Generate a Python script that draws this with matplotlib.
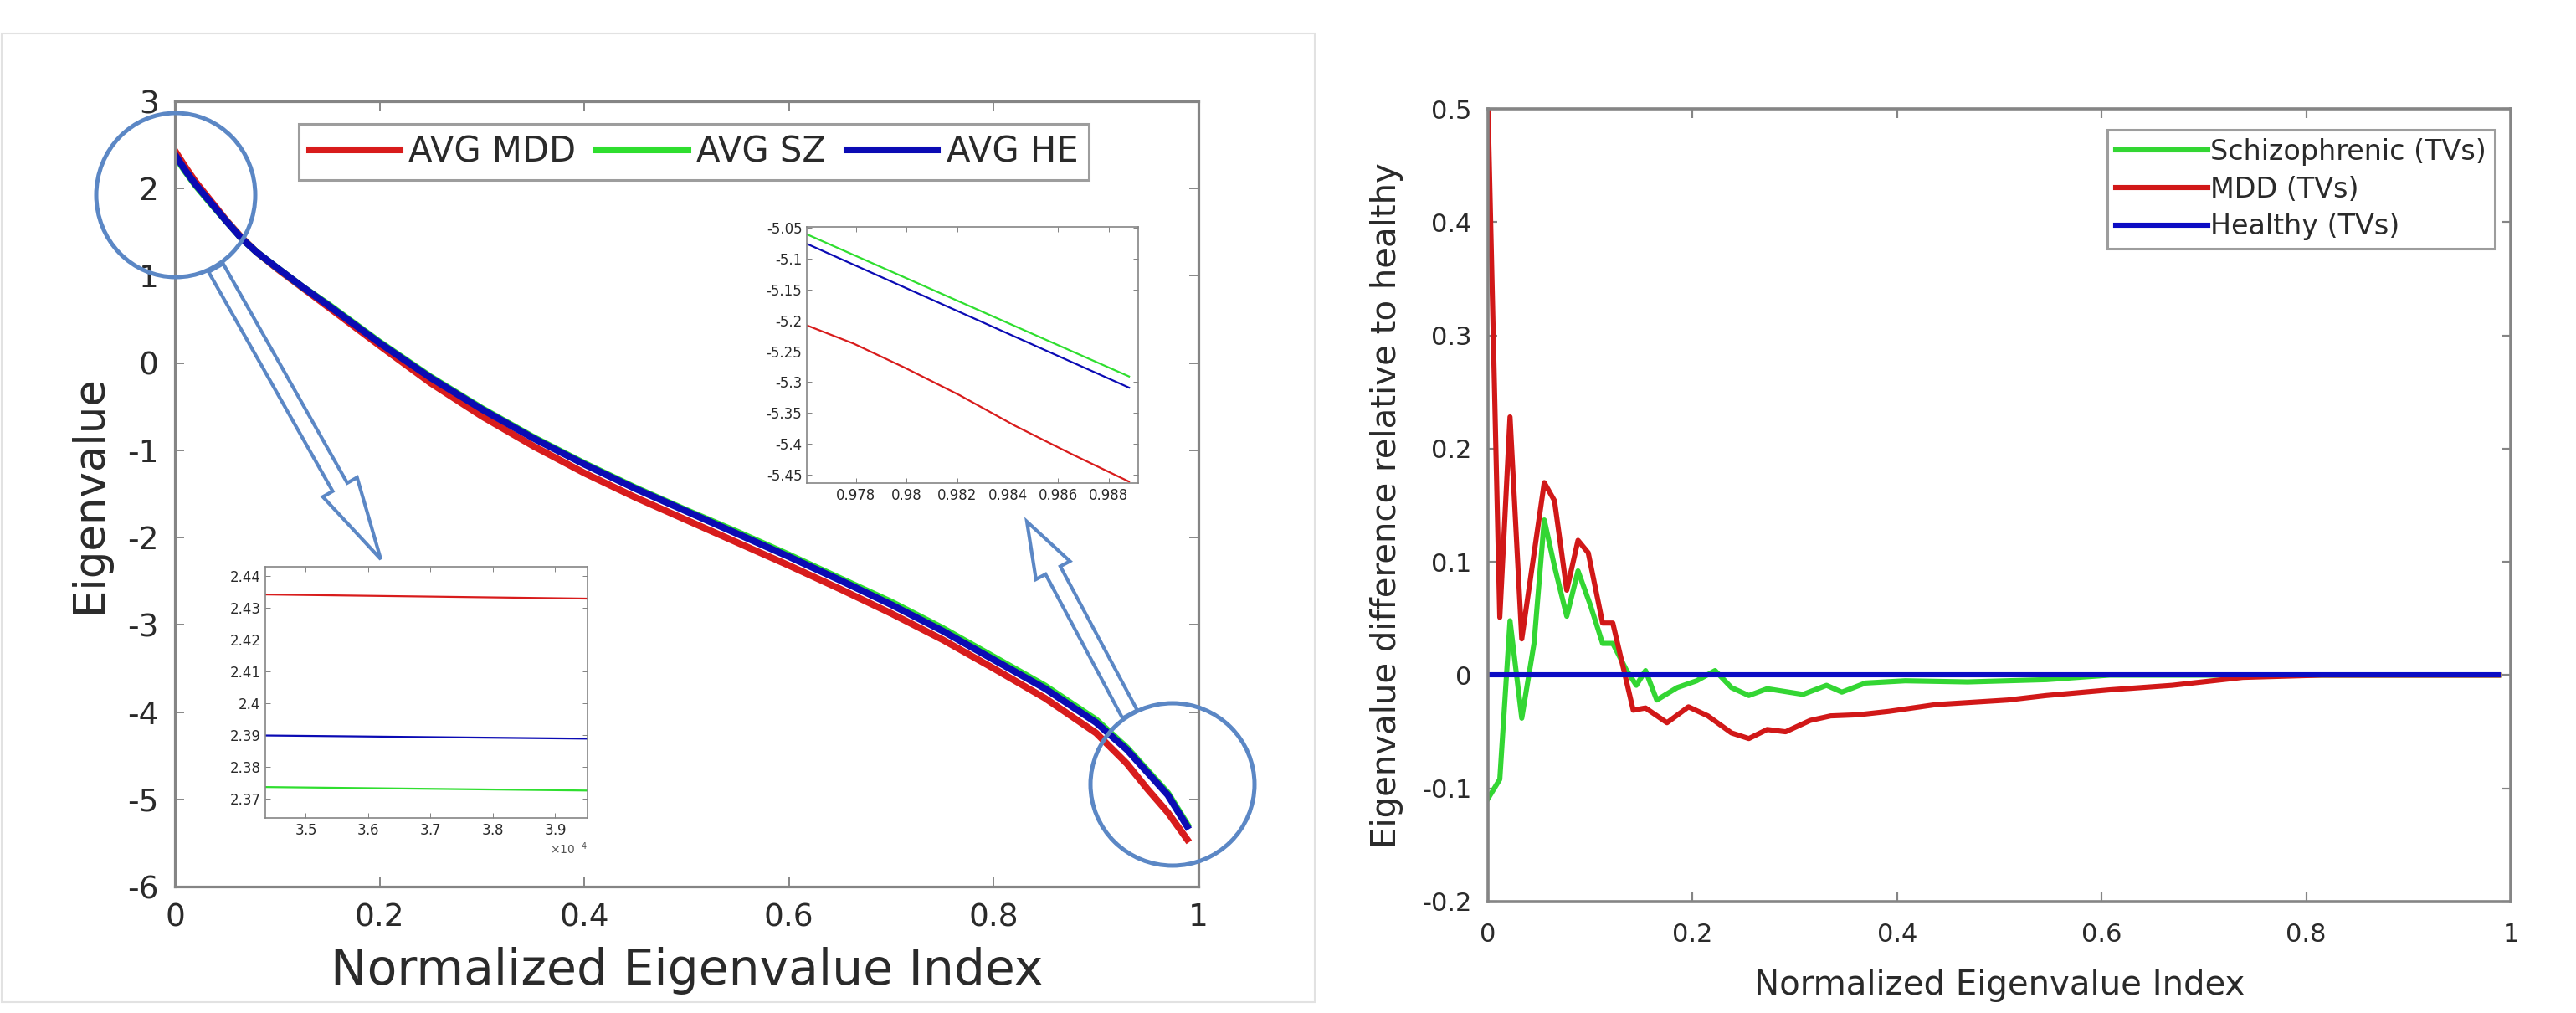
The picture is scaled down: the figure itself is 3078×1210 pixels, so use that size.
import matplotlib
matplotlib.use('Agg')
from matplotlib import pyplot as plt
from matplotlib import patches, transforms
from matplotlib.ticker import FuncFormatter

# ---- left panel: average eigenvalue spectra ----
x_index = [0, 0.01, 0.02, 0.035, 0.05, 0.065, 0.08, 0.1, 0.125, 0.15, 0.2, 0.25, 0.3, 0.35, 0.4,
           0.45, 0.5, 0.55, 0.6, 0.65, 0.7, 0.75, 0.8, 0.85, 0.9, 0.93, 0.95, 0.97, 0.989]
avg_mdd = [2.434, 2.25, 2.08, 1.86, 1.64, 1.44, 1.27, 1.08, 0.86, 0.64, 0.2, -0.23, -0.61, -0.95,
           -1.26, -1.54, -1.8, -2.06, -2.32, -2.59, -2.87, -3.17, -3.5, -3.84, -4.24, -4.59, -4.88,
           -5.15, -5.46]
avg_sz = [2.374, 2.2, 2.04, 1.83, 1.63, 1.43, 1.27, 1.09, 0.87, 0.67, 0.24, -0.16, -0.52, -0.85,
          -1.15, -1.43, -1.69, -1.94, -2.2, -2.47, -2.74, -3.04, -3.37, -3.7, -4.09, -4.41, -4.67,
          -4.93, -5.29]
avg_he = [2.39, 2.21, 2.05, 1.84, 1.63, 1.43, 1.27, 1.09, 0.87, 0.66, 0.23, -0.17, -0.53, -0.86,
          -1.16, -1.44, -1.7, -1.96, -2.22, -2.49, -2.77, -3.07, -3.4, -3.73, -4.12, -4.43, -4.69,
          -4.95, -5.31]

# zoom near the first eigenvalue
zoom1_x = [3.4355e-4, 3.952e-4]
zoom1_mdd = [2.4342, 2.4329]
zoom1_sz = [2.3737, 2.3726]
zoom1_he = [2.3899, 2.3889]

# zoom near the last eigenvalue
zoom2_x = [0.97606, 0.9888]
zoom2_mdd_x = [0.97606, 0.97791, 0.9799, 0.9821, 0.9843, 0.9865, 0.9888]
zoom2_mdd = [-5.208, -5.2376, -5.276, -5.3212, -5.3709, -5.416, -5.4613]
zoom2_sz = [-5.0604, -5.2909]
zoom2_he = [-5.0758, -5.309]

# ---- right panel: difference relative to healthy ----
diff_sz_x = [0, 0.0115, 0.0215, 0.033, 0.045, 0.055, 0.065, 0.077, 0.088, 0.1, 0.112, 0.122,
             0.135, 0.145, 0.154, 0.165, 0.185, 0.204, 0.222, 0.238, 0.255, 0.273, 0.308,
             0.331, 0.346, 0.369, 0.408, 0.469, 0.546, 0.608, 0.988]
diff_sz = [-0.109, -0.092, 0.048, -0.038, 0.028, 0.137, 0.096, 0.052, 0.092, 0.062, 0.028, 0.028,
           0.005, -0.009, 0.004, -0.022, -0.011, -0.005, 0.004, -0.011, -0.018, -0.012, -0.017,
           -0.009, -0.015, -0.007, -0.005, -0.006, -0.004, 0.0, 0.0]
diff_mdd_x = [0, 0.0115, 0.0215, 0.033, 0.055, 0.065, 0.077, 0.088, 0.098, 0.112, 0.122, 0.142,
              0.154, 0.175, 0.196, 0.215, 0.238, 0.255, 0.273, 0.291, 0.315, 0.335, 0.362, 0.392,
              0.438, 0.508, 0.546, 0.608, 0.669, 0.738, 0.815, 0.988]
diff_mdd = [0.5, 0.051, 0.228, 0.032, 0.17, 0.154, 0.075, 0.119, 0.108, 0.046, 0.046, -0.031,
            -0.029, -0.042, -0.028, -0.036, -0.051, -0.056, -0.048, -0.05, -0.04, -0.036, -0.035,
            -0.032, -0.026, -0.022, -0.018, -0.013, -0.009, -0.002, 0.0, 0.0]
diff_he_x = [0, 0.988]
diff_he = [0.0, 0.0]

plt.rcParams['font.family'] = ['DejaVu Sans']
plt.rcParams['axes.unicode_minus'] = False

RED = '#d81c1c'
GREEN = '#2fde2f'
BLUE = '#0b0bb4'
MARK = '#5b87c5'
GRAY = '#858585'
TXT = '#2a2a2a'

W, H = 3078, 1210


def num(v, pos):
    return '%g' % (round(v, 6) + 0.0)


def style_axes(ax, size, spine_w, tick_len, pad):
    for s in ax.spines.values():
        s.set_color(GRAY)
        s.set_linewidth(spine_w)
    ax.tick_params(direction='in', top=True, right=True, length=tick_len, width=spine_w * 0.6,
                   color=GRAY, labelsize=size, labelcolor=TXT, pad=pad)


def px_box(x0, y0, x1, y1):
    # pixel box (top-left origin) -> figure fraction rect
    return [x0 / W, 1 - y1 / H, (x1 - x0) / W, (y1 - y0) / H]


fig = plt.figure(figsize=(W / 100, H / 100), dpi=100)

# left main axes
ax = fig.add_axes(px_box(209, 121, 1432, 1059))
ax.plot(x_index, avg_mdd, color=RED, lw=5.8, label='AVG MDD')
ax.plot(x_index, avg_sz, color=GREEN, lw=5.8, label='AVG SZ')
ax.plot(x_index, avg_he, color=BLUE, lw=5.8, label='AVG HE')
ax.set_xlim(0, 1)
ax.set_ylim(-6, 3)
ax.set_xticks([0, 0.2, 0.4, 0.6, 0.8, 1])
ax.set_yticks(range(-6, 4))
ax.xaxis.set_major_formatter(FuncFormatter(num))
ax.yaxis.set_major_formatter(FuncFormatter(num))
style_axes(ax, 27, 2.3, 8, 14)
ax.set_xlabel('Normalized Eigenvalue Index', fontsize=42, color=TXT, va='center')
ax.set_ylabel('Eigenvalue', fontsize=37, color=TXT, va='center')
ax.xaxis.set_label_coords(0.5, (1059 - 1160) / 938)
ax.yaxis.set_label_coords((107 - 209) / 1223, 0.5)
lgd = ax.legend(loc='upper left', bbox_to_anchor=((357 - 209) / 1223, (1059 - 148) / 938),
                ncol=3, fontsize=30, handlelength=2.6, handletextpad=0.25, columnspacing=0.6,
                fancybox=False, edgecolor=GRAY, borderpad=0.3, borderaxespad=0)
lgd.get_frame().set_linewidth(2.2)
for t in lgd.get_texts():
    t.set_color(TXT)

# inset near the first eigenvalue
ins1 = fig.add_axes(px_box(317, 677, 702, 977))
ins1.plot(zoom1_x, zoom1_mdd, color=RED, lw=1.6)
ins1.plot(zoom1_x, zoom1_he, color=BLUE, lw=1.6)
ins1.plot(zoom1_x, zoom1_sz, color=GREEN, lw=1.6)
ins1.set_xlim(3.4355e-4, 3.952e-4)
ins1.set_ylim(2.364, 2.4429)
ins1.set_xticks([3.5e-4, 3.6e-4, 3.7e-4, 3.8e-4, 3.9e-4])
ins1.set_yticks([2.37, 2.38, 2.39, 2.4, 2.41, 2.42, 2.43, 2.44])
ins1.yaxis.set_major_formatter(FuncFormatter(num))
ins1.ticklabel_format(axis='x', style='sci', scilimits=(0, 0), useMathText=True)
style_axes(ins1, 12, 1.2, 4, 4)
ins1.xaxis.get_offset_text().set_fontsize(10)
ins1.xaxis.get_offset_text().set_color('#555555')

# inset near the last eigenvalue
ins2 = fig.add_axes(px_box(964, 271, 1360, 577))
ins2.plot(zoom2_mdd_x, zoom2_mdd, color=RED, lw=1.6)
ins2.plot(zoom2_x, zoom2_sz, color=GREEN, lw=1.6)
ins2.plot(zoom2_x, zoom2_he, color=BLUE, lw=1.6)
ins2.set_xlim(0.97606, 0.98916)
ins2.set_ylim(-5.4636, -5.0485)
ins2.set_xticks([0.978, 0.98, 0.982, 0.984, 0.986, 0.988])
ins2.set_yticks([-5.45, -5.4, -5.35, -5.3, -5.25, -5.2, -5.15, -5.1, -5.05])
ins2.xaxis.set_major_formatter(FuncFormatter(num))
ins2.yaxis.set_major_formatter(FuncFormatter(num))
style_axes(ins2, 12, 1.2, 4, 4)

# right axes
ax2 = fig.add_axes(px_box(1778, 130, 3000, 1077))
ax2.plot(diff_sz_x, diff_sz, color='#33d633', lw=4.4, label='Schizophrenic (TVs)')
ax2.plot(diff_mdd_x, diff_mdd, color='#d11818', lw=4.4, label='MDD (TVs)')
ax2.plot(diff_he_x, diff_he, color='#0c0cc4', lw=4.4, label='Healthy (TVs)')
ax2.set_xlim(0, 1)
ax2.set_ylim(-0.2, 0.5)
ax2.set_xticks([0, 0.2, 0.4, 0.6, 0.8, 1])
ax2.set_yticks([-0.2, -0.1, 0, 0.1, 0.2, 0.3, 0.4, 0.5])
ax2.xaxis.set_major_formatter(FuncFormatter(num))
ax2.yaxis.set_major_formatter(FuncFormatter(num))
style_axes(ax2, 22, 2.6, 8, 18)
ax2.tick_params(axis='y', pad=14)
ax2.set_xlabel('Normalized Eigenvalue Index', fontsize=29, color=TXT, va='center')
ax2.set_ylabel('Eigenvalue difference relative to healthy', fontsize=29, color=TXT, va='center')
ax2.xaxis.set_label_coords(0.5, (1077 - 1177) / 947)
ax2.yaxis.set_label_coords((1657 - 1778) / 1222, 0.5)
lgd2 = ax2.legend(loc='upper right', bbox_to_anchor=((2981 - 1778) / 1222, (1077 - 155) / 947),
                  fontsize=24, handlelength=3.3, handletextpad=0.1, labelspacing=0.35,
                  fancybox=False, edgecolor=GRAY, borderpad=0.3, borderaxespad=0)
lgd2.get_frame().set_linewidth(2.2)
for t in lgd2.get_texts():
    t.set_color(TXT)

# circles, arrows and frame drawn in pixel coordinates
px = transforms.Affine2D().scale(1 / W, -1 / H).translate(0, 1) + fig.transFigure
fig.add_artist(patches.Rectangle((2, 40), 1569, 1157, transform=px, fill=False,
                                 ec='#e2e2e2', lw=1.5))
fig.add_artist(patches.Ellipse((210, 233), 190, 196, transform=px, fill=False, ec=MARK, lw=3.6))
fig.add_artist(patches.Ellipse((1401, 937), 196, 194, transform=px, fill=False, ec=MARK, lw=3.6))
fig.add_artist(patches.FancyArrow(258, 320, 455 - 258, 668 - 320, width=20, head_width=47,
                                  head_length=99, length_includes_head=True, transform=px,
                                  fill=False, ec=MARK, lw=3))
fig.add_artist(patches.FancyArrow(1350, 853, 1227 - 1350, 623 - 853, width=20, head_width=46,
                                  head_length=66, length_includes_head=True, transform=px,
                                  fill=False, ec=MARK, lw=3))

fig.savefig('out.png', dpi=100)
